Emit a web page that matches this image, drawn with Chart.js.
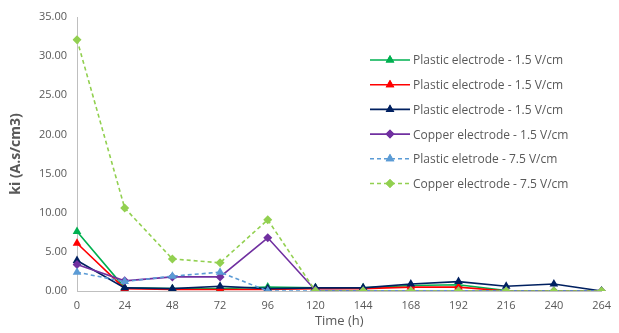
<!DOCTYPE html>
<html>
<head>
<meta charset="utf-8">
<script src="https://cdn.jsdelivr.net/npm/chart.js@4"></script>
<style>
  html, body { margin: 0; padding: 0; background: #fff; }
  #wrap { width: 619px; height: 333px; position: relative; }
</style>
</head>
<body>
<div id="wrap"><canvas id="kiChart" width="619" height="333"></canvas></div>
<script>
/* dados */
const hours = ['0', '24', '48', '72', '96', '120', '144', '168', '192', '216', '240', '264'];

const plasticA  = [7.6, 0.4, 0.3, 0.3, 0.5, 0.4, 0.4, 0.7, 0.8, 0.05, 0.0, 0.0];
const plasticB  = [6.1, 0.3, 0.2, 0.2, 0.2, 0.3, 0.3, 0.5, 0.5, 0.0, 0.0, 0.0];
const plasticC  = [3.9, 0.4, 0.3, 0.6, 0.3, 0.4, 0.4, 0.9, 1.2, 0.6, 0.9, 0.0];
const copper15  = [3.4, 1.3, 1.8, 1.8, 6.8, 0.1, 0.0, 0.0, 0.0, 0.0, 0.0, 0.0];
const plastic75 = [2.4, 1.2, 1.9, 2.4, 0.0, 0.0, 0.0, 0.0, 0.0, 0.0, 0.0, 0.0];
const copper75  = [32.1, 10.6, 4.1, 3.6, 9.1, 0.0, 0.0, 0.0, 0.0, 0.0, 0.0, 0.0];

const yTicks = [0, 5, 10, 15, 20, 25, 30, 35];

const series = [
  { label: 'Plastic electrode - 1.5 V/cm', data: plasticA,  color: '#00b050', pt: 'triangle', dash: [] },
  { label: 'Plastic electrode - 1.5 V/cm', data: plasticB,  color: '#ff0000', pt: 'triangle', dash: [] },
  { label: 'Plastic electrode - 1.5 V/cm', data: plasticC,  color: '#002060', pt: 'triangle', dash: [] },
  { label: 'Copper electrode - 1.5 V/cm',  data: copper15,  color: '#7030a0', pt: 'rectRot',  dash: [] },
  { label: 'Plastic eletrode - 7.5 V/cm',  data: plastic75, color: '#5b9bd5', pt: 'triangle', dash: [4, 3] },
  { label: 'Copper electrode - 7.5 V/cm',  data: copper75,  color: '#92d050', pt: 'rectRot',  dash: [4, 3] }
];

const FONT = '"Open Sans", "Liberation Sans", sans-serif';

/* legenda desenhada à mão (linha tracejada + marcador) */
const sideLegend = {
  id: 'sideLegend',
  afterDraw(chart) {
    const c = chart.ctx;
    const x0 = 370, x1 = 410, ty0 = 60, step = 24.7;
    c.save();
    series.forEach((s, i) => {
      const y = ty0 + i * step;
      c.strokeStyle = s.color;
      c.lineWidth = 1.6;
      c.setLineDash(s.dash);
      c.beginPath(); c.moveTo(x0, y); c.lineTo(x1, y); c.stroke();
      c.setLineDash([]);
      c.fillStyle = s.color;
      c.beginPath();
      Chart.helpers.drawPoint(c, { pointStyle: s.pt, radius: s.pt === 'triangle' ? 5 : 4.5, borderWidth: 0 }, (x0 + x1) / 2, y);
      c.fill();
      c.fillStyle = '#595959';
      c.font = '12px ' + FONT;
      c.textBaseline = 'middle';
      c.fillText(s.label, x1 + 3, y + 1);
    });
    c.restore();
  }
};

new Chart(document.getElementById('kiChart'), {
  type: 'line',
  data: {
    labels: hours,
    datasets: series.map((s, i) => ({
      label: s.label,
      data: s.data,
      borderColor: s.color,
      backgroundColor: s.color,
      borderWidth: 1.6,
      borderDash: s.dash,
      pointStyle: s.pt,
      pointRadius: s.pt === 'triangle' ? 5 : 4.5,
      pointBorderWidth: 0,
      pointBackgroundColor: s.color,
      tension: 0,
      order: series.length - i
    }))
  },
  options: {
    responsive: false,
    animation: false,
    layout: { padding: { top: 17, right: 10, left: 0, bottom: 0 } },
    plugins: { legend: { display: false }, tooltip: { enabled: false } },
    scales: {
      x: {
        type: 'category',
        offset: false,
        grid: { display: false, drawTicks: false },
        border: { color: '#bfbfbf', width: 1 },
        ticks: { color: '#595959', font: { family: FONT, size: 11 }, padding: 8, maxRotation: 0, autoSkip: false },
        title: { display: true, text: 'Time (h)', color: '#595959', font: { family: FONT, size: 13 }, padding: { top: 2 } },
        afterFit: s => { s.height = 42; }
      },
      y: {
        min: 0, max: 35,
        afterBuildTicks: s => { s.ticks = yTicks.map(v => ({ value: v })); },
        grid: { display: false, drawTicks: false },
        border: { color: '#bfbfbf', width: 1 },
        ticks: { color: '#595959', font: { family: FONT, size: 11 }, padding: 10, callback: v => Number(v).toFixed(2) },
        title: { display: true, text: 'ki (A.s/cm3)', color: '#595959', font: { family: FONT, size: 14, weight: 'bold' }, padding: { top: 8, bottom: 4 } },
        afterFit: s => { s.width = 77; }
      }
    }
  },
  plugins: [sideLegend]
});
</script>
</body>
</html>
